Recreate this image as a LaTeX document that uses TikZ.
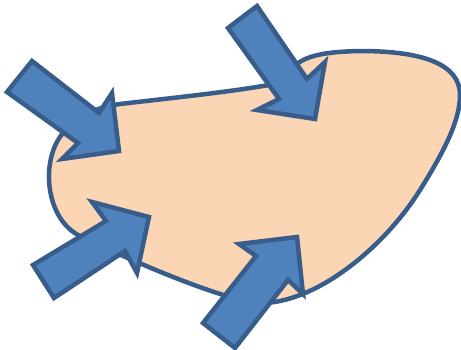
\documentclass[tikz,border=0pt]{standalone}
\definecolor{peach}{HTML}{FCD5B5}
\definecolor{edgeblue}{HTML}{385D8A}
\definecolor{arrowblue}{HTML}{4F81BD}
\begin{document}
\begin{tikzpicture}[x=1pt,y=-1pt]
\tikzset{
  blob/.style={fill=peach, draw=edgeblue, line width=4.5pt},
  blockarrow/.style={fill=arrowblue, draw=edgeblue, line width=4.5pt, line join=miter}
}
\useasboundingbox (0,0) rectangle (461,349);
% the blob
\draw[blob] (285,82) .. controls (292,56) and (320,52) .. (360,51)
 .. controls (425,51) and (460,65) .. (460,95)
 .. controls (460,120) and (445,150) .. (420,190)
 .. controls (385,246) and (320,300) .. (265,303)
 .. controls (235,305) and (140,265) .. (80,236)
 .. controls (45,219) and (40,160) .. (63,133)
 .. controls (78,115) and (95,108) .. (120,104)
 .. controls (180,97) and (240,91) .. (285,82) -- cycle;
% block arrows
\draw[blockarrow] (32,61) -- (99,113) -- (112,93) -- (119,151) -- (62,159) -- (78,143) -- (7,92) -- cycle;
\draw[blockarrow] (257,6) -- (307,79) -- (325,62) -- (315,119) -- (257,110) -- (279,99) -- (228,28) -- cycle;
\draw[blockarrow] (33,265) -- (106,221) -- (92,202) -- (149,217) -- (137,273) -- (125,251) -- (54,298) -- cycle;
\draw[blockarrow] (203,323) -- (256,256) -- (239,244) -- (297,237) -- (303,294) -- (288,280) -- (235,348) -- cycle;
\end{tikzpicture}
\end{document}
